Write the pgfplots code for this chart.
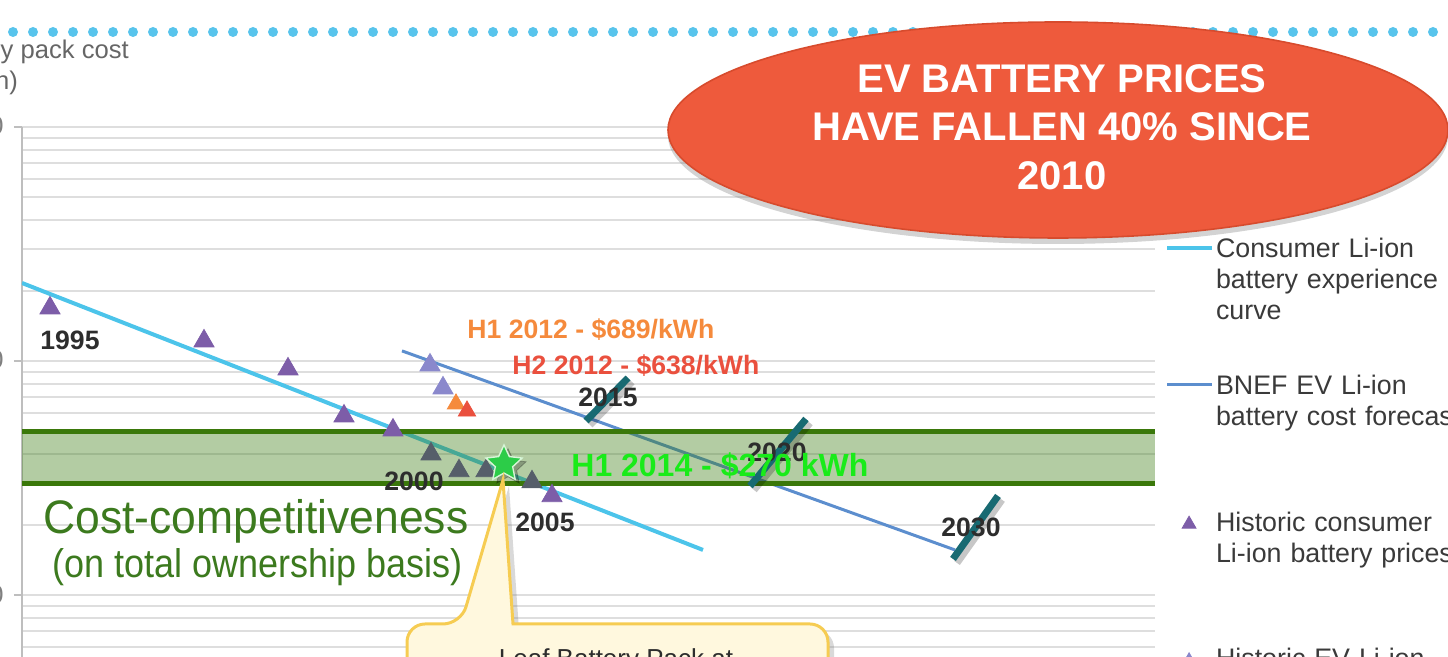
\documentclass[border=0pt]{standalone}
\usepackage{fontspec}
\setmainfont{Liberation Sans}
\usepackage{graphicx}
\usepackage{pgfplots}
\pgfplotsset{compat=1.18}
\usetikzlibrary{shadows}

\definecolor{cyanc}{RGB}{76,196,234}
\definecolor{bluec}{RGB}{92,142,206}
\definecolor{purp}{RGB}{125,93,168}
\definecolor{slatec}{RGB}{86,94,106}
\definecolor{evc}{RGB}{138,136,204}
\definecolor{orangec}{RGB}{245,138,60}
\definecolor{redc}{RGB}{234,80,62}
\definecolor{bandedge}{RGB}{58,120,10}
\definecolor{bandc}{RGB}{64,128,26}
\definecolor{tealc}{RGB}{24,106,114}
\definecolor{starc}{RGB}{44,204,72}
\definecolor{stard}{RGB}{215,245,215}
\definecolor{brightg}{RGB}{25,235,25}
\definecolor{costg}{RGB}{60,122,30}
\definecolor{ellc}{RGB}{238,90,60}
\definecolor{elld}{RGB}{215,75,45}
\definecolor{dotc}{RGB}{88,196,236}
\definecolor{gridc}{RGB}{222,222,222}
\definecolor{axc}{RGB}{190,190,190}
\definecolor{darkc}{RGB}{45,45,45}
\definecolor{legc}{RGB}{58,58,58}
\definecolor{callf}{RGB}{255,248,222}
\definecolor{callb}{RGB}{246,204,82}

\pgfplotsset{
  mylinelegend/.style={legend image code/.code={\draw[##1] (0pt,5pt) -- (22.5pt,5pt);}},
  mytrilegend/.style={legend image code/.code={\draw[##1] plot coordinates {(11pt,3.5pt)};}},
}

\pgfdeclareplotmark{fstar}{%
  \pgfpathmoveto{\pgfpointpolar{90}{\pgfplotmarksize}}%
  \pgfpathlineto{\pgfpointpolar{126}{0.48\pgfplotmarksize}}%
  \pgfpathlineto{\pgfpointpolar{162}{\pgfplotmarksize}}%
  \pgfpathlineto{\pgfpointpolar{198}{0.48\pgfplotmarksize}}%
  \pgfpathlineto{\pgfpointpolar{234}{\pgfplotmarksize}}%
  \pgfpathlineto{\pgfpointpolar{270}{0.48\pgfplotmarksize}}%
  \pgfpathlineto{\pgfpointpolar{306}{\pgfplotmarksize}}%
  \pgfpathlineto{\pgfpointpolar{342}{0.48\pgfplotmarksize}}%
  \pgfpathlineto{\pgfpointpolar{18}{\pgfplotmarksize}}%
  \pgfpathlineto{\pgfpointpolar{54}{0.48\pgfplotmarksize}}%
  \pgfpathclose
  \pgfusepathqfillstroke
}

\begin{document}
\begin{tikzpicture}
\path[use as bounding box] (0,0) rectangle (724pt,328.5pt);
\clip (0,0) rectangle (724pt,328.5pt);

% top dotted rule
\begin{scope}[shift={(0pt,328.5pt)}, x=0.5pt, y=-0.5pt]
\draw[dotc, line width=5pt, line cap=round, dash pattern=on 0pt off 10pt] (-7,32) -- (1470,32);
\end{scope}

\begin{axis}[
  at={(11pt,0pt)}, anchor=south west,
  scale only axis, width=566.5pt, height=265pt,
  xmin=22, xmax=1155, ymin=54.3, ymax=10000,
  ymode=log,
  axis x line=none, axis y line*=left,
  y axis line style={draw=axc, line width=0.75pt},
  ytick={100,1000,10000}, yticklabels={100,{1,000},{10,000}},
  minor ytick={60,70,80,90,200,300,400,500,600,700,800,900,2000,3000,4000,5000,6000,7000,8000,9000},
  ymajorgrids, yminorgrids,
  major grid style={draw=gridc, line width=1pt},
  minor grid style={draw=gridc, line width=1pt},
  tick align=outside, major tick length=4pt, minor tick length=0pt,
  ytick style={draw=axc, line width=0.75pt},
  yticklabel style={font=\fontsize{12.8}{15}\selectfont, text=gray, inner sep=0pt, xshift=-5pt},
  legend style={at={(1.0089,0.7906)}, anchor=north west, draw=none, fill=none,
    inner sep=0pt, outer sep=0pt, row sep=0pt,
    font=\fontsize{13.4}{15.5}\selectfont, text=legc,
    cells={anchor=base west},
    nodes={anchor=base west, text width=140pt, text height=10pt, text depth=58.3pt, inner sep=0pt},
    /tikz/every odd column/.append style={column sep=1pt}},
]
\addlegendimage{cyanc, line width=2pt, mylinelegend}
\addlegendentry{Consumer Li-ion\\battery experience\\curve}
\addlegendimage{bluec, line width=1.5pt, mylinelegend}
\addlegendentry{BNEF EV Li-ion\\battery cost forecast}
\addlegendimage{only marks, mark=triangle*, mark size=4pt, purp, mytrilegend}
\addlegendentry{Historic consumer\\Li-ion battery prices}
\addlegendimage{only marks, mark=triangle*, mark size=4pt, evc, mytrilegend}
\addlegendentry{Historic EV Li-ion\\battery prices}

% historic consumer Li-ion battery prices (outside the band)
\addplot[only marks, mark=triangle*, mark size=5.8pt, purp] coordinates {
 (50,1683) (204,1216) (288,923) (344,581) (393,506) (552,265)};
% experience curve and forecast
\addplot[cyanc, line width=2pt] coordinates {(22,2154) (703,155.7)};
\addplot[bluec, line width=1.5pt] coordinates {(402,1104) (955,155.7)};
% cost-competitiveness band
\addplot[draw=none, fill=bandc, fill opacity=0.4] coordinates {(22,300) (1155,300) (1155,500) (22,500)} -- cycle;
% historic consumer prices seen through the band
\addplot[only marks, mark=triangle*, mark size=5.8pt, slatec] coordinates {
 (431,400) (459,339) (486,339) (532,304)};
\addplot[bandedge, line width=2.5pt] coordinates {(22,500) (1155,500)};
\addplot[bandedge, line width=2.5pt] coordinates {(22,300) (1155,300)};
% historic EV prices
\addplot[only marks, mark=triangle*, mark size=5.8pt, evc] coordinates {(430,960) (443,766)};
\addplot[only marks, mark=triangle*, mark size=5pt, orangec] coordinates {(456,655)};
\addplot[only marks, mark=triangle*, mark size=5pt, redc] coordinates {(467,611)};
% year ticks on forecast (shadow, then tick)
\addplot[black, opacity=0.22, line width=3.5pt] coordinates {(590,533) (632,813)};
\addplot[black, opacity=0.22, line width=3.5pt] coordinates {(754,281) (810,543)};
\addplot[black, opacity=0.22, line width=3.5pt] coordinates {(957,137) (1002,255)};
\addplot[tealc, line width=3.5pt] coordinates {(586,554) (628,846)};
\addplot[tealc, line width=3.5pt] coordinates {(750,292) (806,565)};
\addplot[tealc, line width=3.5pt] coordinates {(953,142.5) (998,265)};
% Leaf star (shadow, then star)
\addplot[only marks, mark=fstar, mark size=9.5pt, mark options={fill=black, draw=none, opacity=0.25}] coordinates {(508,350)};
\addplot[only marks, mark=fstar, mark size=9.5pt, mark options={fill=starc, draw=stard, line width=0.7pt}] coordinates {(504,363)};
\end{axis}

\begin{scope}[shift={(0pt,328.5pt)}, x=0.5pt, y=-0.5pt]
% y label (cut by the frame)
\node[anchor=base west, inner sep=0pt, text=gray!80!black, font=\fontsize{12.8}{15}\selectfont] at (-68,59) {Battery pack cost};
\node[anchor=base west, inner sep=0pt, text=gray!80!black, font=\fontsize{12.8}{15}\selectfont] at (-72,90) {(\$/kWh)};
% headline ellipse
\draw[fill=ellc, draw=elld, line width=0.8pt, drop shadow={shadow xshift=0pt, shadow yshift=-3pt, opacity=0.35}] (1058,130) ellipse [x radius=390, y radius=108];
\node[text=white, align=center, font=\bfseries\fontsize{20}{24.25}\selectfont] at (1062,127) {EV BATTERY PRICES\\HAVE FALLEN 40\% SINCE\\2010};
% year labels
\begin{scope}[every node/.style={font=\bfseries\fontsize{13.3}{15}\selectfont, text=darkc, inner sep=0pt}]
\node at (70,340) {1995};
\node at (414,481) {2000};
\node at (545,522) {2005};
\node at (608,397) {2015};
\node at (777,452) {2020};
\node at (971,527) {2030};
\end{scope}
\node[anchor=west, inner sep=0pt, text=orangec, font=\bfseries\fontsize{13.3}{15}\selectfont] at (467,330) {H1 2012 - \$689/kWh};
\node[anchor=west, inner sep=0pt, text=redc, font=\bfseries\fontsize{13.3}{15}\selectfont] at (512,366) {H2 2012 - \$638/kWh};
\node[anchor=west, inner sep=0pt, text=brightg, font=\bfseries\fontsize{16}{18}\selectfont] at (571,466) {H1 2014 - \$270 kWh};
\node[anchor=west, inner sep=0pt, text=costg, font=\fontsize{23.5}{28}\selectfont] at (43,521) {\scalebox{0.946}[1]{Cost-competitiveness}};
\node[anchor=west, inner sep=0pt, text=costg, font=\fontsize{20}{24}\selectfont] at (52,567) {\scalebox{0.9}[1]{(on total ownership basis)}};
% callout
\draw[draw=callb, line width=1.5pt, fill=callf, drop shadow={shadow xshift=3pt, shadow yshift=-3pt, opacity=0.3}]
  (407,720) [rounded corners=9pt] -- (407,624) -- (461,624) [sharp corners] -- (503,480) -- (513,624) [rounded corners=9pt] -- (828,624) -- (828,720) [sharp corners] -- cycle;
\node[anchor=north, inner sep=0pt, text=darkc, font=\fontsize{13}{15}\selectfont] at (616,648) {Leaf Battery Pack at};
\end{scope}
\end{tikzpicture}
\end{document}
